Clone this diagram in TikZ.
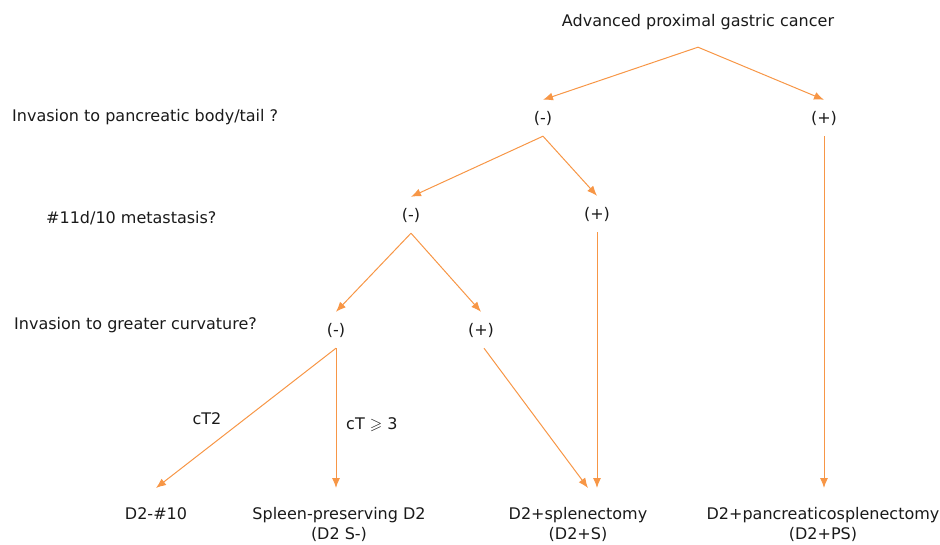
\documentclass[tikz,border=0pt]{standalone}
\usepackage{amssymb}
\usepackage{fontspec}
\setmainfont{DejaVu Sans}
\usetikzlibrary{arrows.meta}
\definecolor{arrowc}{HTML}{F79646}
\definecolor{txt}{HTML}{1A1A1A}
\tikzset{
  lab/.style={font=\fontsize{16}{20}\selectfont, text=txt, inner sep=0pt},
  sgn/.style={lab, minimum height=36pt},
  res/.style={lab, align=center, anchor=north, inner ysep=19pt},
  ques/.style={lab, anchor=west},
  arr/.style={draw=arrowc, line width=1pt, -{Latex[length=10pt,width=8pt]}}
}
\begin{document}
\begin{tikzpicture}[x=1pt,y=-1pt]
\useasboundingbox (0,0) rectangle (940,545);
% title
\node[lab, minimum height=50pt] (t) at (698,22) {Advanced proximal gastric cancer};
% questions
\node[ques] (q1) at (12,117) {Invasion to pancreatic body/tail ?};
\node[ques] (q2) at (46,218) {\#11d/10 metastasis?};
\node[ques] (q3) at (14,325) {Invasion to greater curvature?};
% sign nodes
\node[sgn] (m1) at (543,118) {(-)};
\node[sgn] (p1) at (824,118) {(+)};
\node[sgn] (m2) at (411,215) {(-)};
\node[sgn] (p2) at (597,214) {(+)};
\node[sgn] (m3) at (336,330) {(-)};
\node[sgn] (p3) at (481,330) {(+)};
% results
\node[res] (d10) at (156,488) {D2-\#10};
\node[res] (sp) at (339,488) {Spleen-preserving D2\\(D2 S-)};
\node[res] (sx) at (578,488) {D2+splenectomy\\(D2+S)};
\node[res] (ps) at (823,488) {D2+pancreaticosplenectomy\\(D2+PS)};
% edge labels
\node[lab] (l1) at (207,419) {cT2};
\node[lab, anchor=west] (l2) at (346,425) {cT $\geqslant$ 3};
% connectors
\draw[arr] (t.south) -- (m1.north);
\draw[arr] (t.south) -- (p1.north);
\draw[arr] (m1.south) -- (m2.north);
\draw[arr] (m1.south) -- (p2.north);
\draw[arr] (m2.south) -- (m3.north);
\draw[arr] (m2.south) -- (p3.north);
\draw[arr] (m3.south) -- (d10.north);
\draw[arr] (m3.south) -- (m3.south |- sp.north);
\draw[arr] ([xshift=3pt]p3.south) -- ([xshift=10pt]sx.north);
\draw[arr] (p2.south) -- (p2.south |- sx.north);
\draw[arr] (p1.south) -- (p1.south |- ps.north);
\end{tikzpicture}
\end{document}
